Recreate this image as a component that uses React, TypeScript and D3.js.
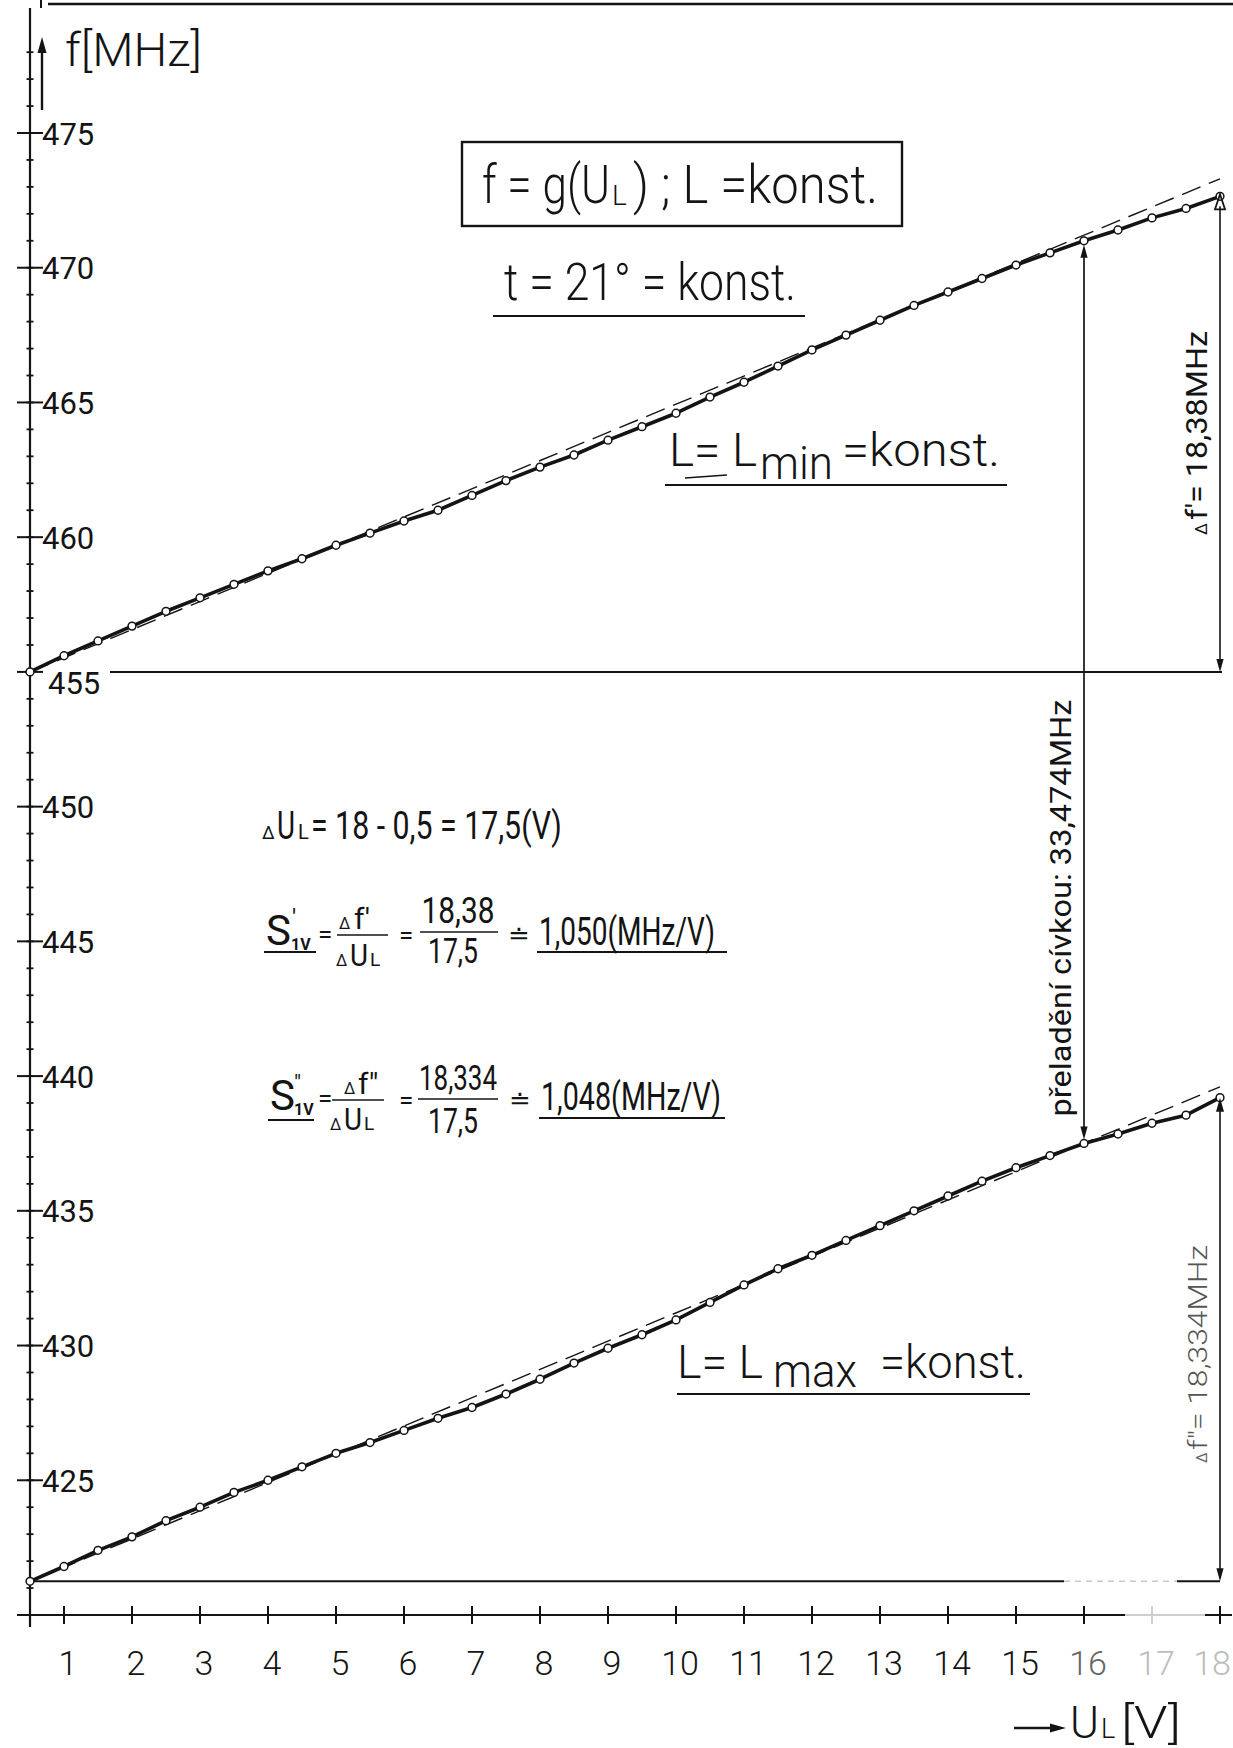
import React, { useLayoutEffect, useRef, useState } from 'react';
import * as d3 from 'd3';

// ---------- data ----------
const voltages = [0.5, 1, 1.5, 2, 2.5, 3, 3.5, 4, 4.5, 5, 5.5, 6, 6.5, 7, 7.5, 8, 8.5, 9, 9.5, 10, 10.5, 11, 11.5, 12, 12.5, 13, 13.5, 14, 14.5, 15, 15.5, 16, 16.5, 17, 17.5, 18];

// L = Lmin = konst.
const freqLmin = [455.0, 455.6, 456.15, 456.7, 457.25, 457.75, 458.25, 458.75, 459.2, 459.7, 460.15, 460.6, 461.0, 461.55, 462.1, 462.6, 463.05, 463.6, 464.1, 464.6, 465.2, 465.75, 466.35, 466.95, 467.5, 468.05, 468.6, 469.1, 469.6, 470.1, 470.55, 471.0, 471.4, 471.85, 472.2, 472.65];

// L = Lmax = konst.
const freqLmax = [421.25, 421.8, 422.4, 422.9, 423.5, 424.0, 424.55, 425.0, 425.5, 426.0, 426.4, 426.85, 427.3, 427.7, 428.2, 428.75, 429.35, 429.9, 430.4, 430.95, 431.6, 432.25, 432.85, 433.35, 433.9, 434.45, 435.0, 435.55, 436.1, 436.6, 437.05, 437.5, 437.85, 438.25, 438.55, 439.2];

// straight (dashed) reference lines: start and end frequency
const dashLmin = [455.0, 473.3];
const dashLmax = [421.25, 439.6];

const xTickValues = [1, 2, 3, 4, 5, 6, 7, 8, 9, 10, 11, 12, 13, 14, 15, 16, 17, 18];
const xTickLabels = ['1', '2', '3', '4', '5', '6', '7', '8', '9', '10', '11', '12', '13', '14', '15', '16', '17', '18'];
const yMajorTicks = [425, 430, 435, 440, 445, 450, 455, 460, 465, 470, 475];
const yMajorLabels = ['425', '430', '435', '440', '445', '450', '455', '460', '465', '470', '475'];
const retuneVoltage = 16;

const W = 1233;
const H = 1748;
const FONT = "Roboto, 'DejaVu Sans', 'Liberation Sans', sans-serif";
const INK = '#141414';

function arrowPath(tx: number, ty: number, dx: number, dy: number, len = 13, half = 3.6) {
  const bx = tx - dx * len;
  const by = ty - dy * len;
  const px = -dy;
  const py = dx;
  return `M${tx},${ty}L${bx + px * half},${by + py * half}L${bx - px * half},${by - py * half}Z`;
}

// text squeezed horizontally (via a transform) to a given width
function FitText(props: any) {
  const { x, y, width, rotate, anchor = 'start', children, ...rest } = props;
  const ref = useRef<SVGTextElement>(null);
  const [s, setS] = useState(1);
  useLayoutEffect(() => {
    if (ref.current) {
      const w = ref.current.getComputedTextLength();
      if (w > 0) setS(width / w);
    }
  }, [width, children]);
  const rot = rotate ? ` rotate(${rotate})` : '';
  return (
    <text ref={ref} transform={`translate(${x},${y})${rot} scale(${s},1)`} x={0} y={0} textAnchor={anchor} {...rest}>
      {children}
    </text>
  );
}

export default function App() {
  const x = d3.scaleLinear().domain([0.5, 18]).range([30, 1220]);
  const y = d3.scaleLinear().domain([420, 475]).range([1615, 133]);

  const line = d3
    .line<number>()
    .x((_, i) => x(voltages[i]))
    .y((d) => y(d));

  const x0 = x(voltages[0]);
  const xEnd = x(voltages[voltages.length - 1]);
  const minorTicks = d3.range(420, 479);

  const iRet = voltages.indexOf(retuneVoltage);
  const xRet = x(retuneVoltage);
  const yRetTop = y(freqLmin[iRet]);
  const yRetBot = y(freqLmax[iRet]);

  const yUpEnd = y(freqLmin[freqLmin.length - 1]);
  const yLoEnd = y(freqLmax[freqLmax.length - 1]);
  const yBase455 = y(freqLmin[0]);
  const yBaseLo = y(freqLmax[0]);
  const xAxisY = y(420);

  const big = { fontFamily: FONT, fill: INK, fontWeight: 300 } as const;
  const txt = { fontFamily: FONT, fill: INK, fontWeight: 400 } as const;

  return (
    <svg
      width={W}
      height={H}
      viewBox={`0 0 ${W} ${H}`}
      style={{ position: 'absolute', left: 0, top: 0, display: 'block', background: '#fff' }}
    >
      <rect x={0} y={0} width={W} height={H} fill="#fff" />

      {/* top frame line */}
      <line x1={48} y1={4} x2={W} y2={4} stroke={INK} strokeWidth={2.5} />
      <line x1={41} y1={0} x2={41} y2={8} stroke={INK} strokeWidth={2} />

      {/* y axis */}
      <line x1={x0} y1={8} x2={x0} y2={xAxisY + 12} stroke={INK} strokeWidth={2.2} />
      {minorTicks.map((v) => (
        <line key={'mt' + v} x1={x0 - 3.5} x2={x0 + 3.5} y1={y(v)} y2={y(v)} stroke={INK} strokeWidth={1.8} />
      ))}
      {yMajorTicks.map((v, i) => (
        <g key={'yt' + v}>
          <line x1={x0 - 13} x2={x0 + 13} y1={y(v)} y2={y(v)} stroke={INK} strokeWidth={2} />
          <text
            x={v === 455 ? x0 + 18 : x0 + 12}
            y={v === 455 ? y(v) + 22 : y(v) + 11.5}
            fontSize={31}
            {...txt}
          >
            {yMajorLabels[i]}
          </text>
        </g>
      ))}

      {/* y axis title */}
      <line x1={42} y1={110} x2={42} y2={50} stroke={INK} strokeWidth={2.4} />
      <path d={arrowPath(42, 37, 0, -1, 16, 4.5)} fill={INK} />
      <FitText x={65} y={66} width={137} fontSize={46} {...big}>
        f[MHz]
      </FitText>

      {/* x axis */}
      <line x1={17} y1={xAxisY} x2={1125} y2={xAxisY} stroke={INK} strokeWidth={2.2} />
      <line x1={1125} y1={xAxisY} x2={1205} y2={xAxisY} stroke="#cfcfcf" strokeWidth={2} />
      <line x1={1205} y1={xAxisY} x2={1232} y2={xAxisY} stroke={INK} strokeWidth={2} />
      {xTickValues.map((v, i) => (
        <g key={'xt' + v}>
          <line
            x1={x(v)}
            x2={x(v)}
            y1={xAxisY - 9}
            y2={xAxisY + 9}
            stroke={v === 17 ? '#cfcfcf' : INK}
            strokeWidth={2}
          />
          <text
            x={v === 18 ? x(v) - 8 : x(v) + 4}
            y={1675}
            fontSize={34}
            textAnchor="middle"
            {...txt}
            fontWeight={300}
            fill={v >= 17 ? '#bdbdbd' : v === 16 ? '#666' : INK}
          >
            {xTickLabels[i]}
          </text>
        </g>
      ))}

      {/* x axis title */}
      <line x1={1014} y1={1728} x2={1052} y2={1728} stroke={INK} strokeWidth={2.4} />
      <path d={arrowPath(1066, 1728, 1, 0, 16, 4.5)} fill={INK} />
      <text x={1070} y={1738} fontSize={44} {...big}>U</text>
      <text x={1101} y={1738} fontSize={27} {...big}>L</text>
      <FitText x={1121} y={1738} width={60} fontSize={44} {...big}>[V]</FitText>

      {/* horizontal reference lines */}
      <line x1={110} y1={yBase455} x2={xEnd + 2} y2={yBase455} stroke={INK} strokeWidth={2} />
      <line x1={x0} y1={yBaseLo} x2={1064} y2={yBaseLo} stroke={INK} strokeWidth={2} />
      <line x1={1064} y1={yBaseLo} x2={1177} y2={yBaseLo} stroke="#c8c8c8" strokeWidth={1.6} strokeDasharray="6 5" />
      <line x1={1177} y1={yBaseLo} x2={xEnd} y2={yBaseLo} stroke={INK} strokeWidth={2} />

      {/* dashed straight lines */}
      <line
        x1={x0}
        y1={y(dashLmin[0])}
        x2={xEnd}
        y2={y(dashLmin[1])}
        stroke={INK}
        strokeWidth={1.4}
        strokeDasharray="20 9"
      />
      <line
        x1={x0}
        y1={y(dashLmax[0])}
        x2={xEnd}
        y2={y(dashLmax[1])}
        stroke={INK}
        strokeWidth={1.4}
        strokeDasharray="20 9"
      />

      {/* measured curves */}
      <path d={line(freqLmin) || ''} fill="none" stroke={INK} strokeWidth={3.6} strokeLinejoin="round" />
      <path d={line(freqLmax) || ''} fill="none" stroke={INK} strokeWidth={3.6} strokeLinejoin="round" />
      {freqLmin.map((f, i) => (
        <circle key={'c1' + i} cx={x(voltages[i])} cy={y(f)} r={3.9} fill="#fff" stroke={INK} strokeWidth={1.5} />
      ))}
      {freqLmax.map((f, i) => (
        <circle key={'c2' + i} cx={x(voltages[i])} cy={y(f)} r={3.9} fill="#fff" stroke={INK} strokeWidth={1.5} />
      ))}

      {/* dimension arrow Δf' */}
      <line x1={xEnd} y1={yUpEnd + 10} x2={xEnd} y2={yBase455 - 10} stroke={INK} strokeWidth={1.6} />
      <path d={arrowPath(xEnd, yUpEnd - 2, 0, -1, 15, 5)} fill="none" stroke={INK} strokeWidth={1.8} />
      <path d={arrowPath(xEnd, yBase455, 0, 1)} fill={INK} />
      <g transform="translate(1207,535) rotate(-90)">
        <text x={0} y={0} fontSize={17} {...txt}>Δ</text>
      </g>
      <FitText x={1207} y={520} rotate={-90} width={189} fontSize={29} {...txt}>
        f′= 18,38MHz
      </FitText>

      {/* dimension arrow Δf'' */}
      <line x1={xEnd} y1={yLoEnd + 10} x2={xEnd} y2={yBaseLo - 10} stroke={INK} strokeWidth={1.6} />
      <path d={arrowPath(xEnd, yLoEnd, 0, -1, 14, 4)} fill={INK} />
      <path d={arrowPath(xEnd, yBaseLo, 0, 1)} fill={INK} />
      <g transform="translate(1207,1463) rotate(-90)">
        <text x={0} y={0} fontSize={15} {...txt} fill="#666">Δ</text>
      </g>
      <FitText x={1207} y={1450} rotate={-90} width={205} fontSize={25} {...txt} fontWeight={300} fill="#555">
        f″= 18,334MHz
      </FitText>

      {/* retuning arrow */}
      <line x1={xRet} y1={yRetTop + 8} x2={xRet} y2={yRetBot - 8} stroke={INK} strokeWidth={1.7} />
      <path d={arrowPath(xRet, yRetTop + 4, 0, -1)} fill={INK} />
      <path d={arrowPath(xRet, yRetBot - 4, 0, 1)} fill={INK} />
      <FitText x={1071} y={908} rotate={-90} anchor="middle" width={417} fontSize={30} {...txt}>
        přeladění cívkou: 33,474MHz
      </FitText>

      {/* title box */}
      <rect x={462} y={142} width={440} height={84} fill="none" stroke={INK} strokeWidth={2.4} />
      <FitText x={482} y={203} width={128} fontSize={54} {...big}>
        f = g(U
      </FitText>
      <text x={612} y={205} fontSize={28} {...big}>L</text>
      <FitText x={633} y={203} width={245} fontSize={54} {...big}>
        ) ; L =konst.
      </FitText>

      {/* t = 21° */}
      <FitText x={504} y={300} width={292} fontSize={52} {...big}>
        t = 21° = konst.
      </FitText>
      <line x1={493} y1={316} x2={805} y2={316} stroke={INK} strokeWidth={2.2} />

      {/* L = Lmin */}
      <FitText x={669} y={466} width={88} fontSize={46} {...big}>L= L</FitText>
      <FitText x={760} y={479} width={73} fontSize={46} {...big}>min</FitText>
      <FitText x={842} y={466} width={158} fontSize={46} {...big}>=konst.</FitText>
      <line x1={685} y1={478} x2={727} y2={475} stroke={INK} strokeWidth={1.3} />
      <line x1={665} y1={485} x2={1007} y2={485} stroke={INK} strokeWidth={2.2} />

      {/* L = Lmax */}
      <FitText x={677} y={1378} width={86} fontSize={46} {...big}>L= L</FitText>
      <FitText x={773} y={1387} width={84} fontSize={46} {...big}>max</FitText>
      <FitText x={880} y={1378} width={146} fontSize={46} {...big}>=konst.</FitText>
      <line x1={677} y1={1394} x2={1030} y2={1394} stroke={INK} strokeWidth={2.2} />

      {/* ΔU_L */}
      <text x={262} y={839} fontSize={18} {...txt}>Δ</text>
      <FitText x={277} y={839} width={18} fontSize={38} {...txt}>U</FitText>
      <text x={298} y={839} fontSize={20} {...txt}>L</text>
      <FitText x={311} y={839} width={251} fontSize={38} {...txt}>
        = 18 - 0,5 = 17,5(V)
      </FitText>

      {/* S'1V formula */}
      <g>
        <text x={266} y={945} fontSize={42} {...txt}>S</text>
        <text x={292} y={926} fontSize={24} {...txt}>′</text>
        <text x={291} y={950} fontSize={16} {...txt} fontWeight={700}>1V</text>
        <line x1={264} y1={952} x2={316} y2={952} stroke={INK} strokeWidth={2} />
        <text x={318} y={943} fontSize={26} {...txt}>=</text>
        <text x={339} y={929} fontSize={16} {...txt}>Δ</text>
        <text x={354} y={929} fontSize={30} {...txt}>f′</text>
        <line x1={337} y1={935} x2={388} y2={935} stroke={INK} strokeWidth={1.6} />
        <text x={336} y={966} fontSize={16} {...txt}>Δ</text>
        <FitText x={350} y={966} width={18} fontSize={32} {...txt}>U</FitText>
        <text x={370} y={966} fontSize={19} {...txt}>L</text>
        <text x={399} y={944} fontSize={26} {...txt}>=</text>
        <FitText x={458} y={923} anchor="middle" width={73} fontSize={36} {...txt}>
          18,38
        </FitText>
        <line x1={420} y1={932} x2={498} y2={932} stroke={INK} strokeWidth={1.6} />
        <FitText x={453} y={963} anchor="middle" width={50} fontSize={36} {...txt}>
          17,5
        </FitText>
        <text x={508} y={944} fontSize={26} {...txt}>≐</text>
        <FitText x={539} y={945} width={176} fontSize={38} {...txt}>
          1,050(MHz/V)
        </FitText>
        <line x1={537} y1={952} x2={727} y2={952} stroke={INK} strokeWidth={2} />
      </g>

      {/* S''1V formula */}
      <g>
        <text x={270} y={1110} fontSize={42} {...txt}>S</text>
        <text x={294} y={1090} fontSize={22} {...txt}>″</text>
        <text x={294} y={1115} fontSize={16} {...txt} fontWeight={700}>1V</text>
        <line x1={268} y1={1120} x2={314} y2={1120} stroke={INK} strokeWidth={2} />
        <text x={318} y={1107} fontSize={26} {...txt}>=</text>
        <text x={344} y={1094} fontSize={16} {...txt}>Δ</text>
        <text x={358} y={1094} fontSize={30} {...txt}>f″</text>
        <line x1={332} y1={1100} x2={384} y2={1100} stroke={INK} strokeWidth={1.6} />
        <text x={330} y={1130} fontSize={16} {...txt}>Δ</text>
        <FitText x={344} y={1130} width={18} fontSize={32} {...txt}>U</FitText>
        <text x={364} y={1130} fontSize={19} {...txt}>L</text>
        <text x={399} y={1109} fontSize={26} {...txt}>=</text>
        <FitText x={458} y={1090} anchor="middle" width={78} fontSize={36} {...txt}>
          18,334
        </FitText>
        <line x1={418} y1={1099} x2={498} y2={1099} stroke={INK} strokeWidth={1.6} />
        <FitText x={453} y={1133} anchor="middle" width={50} fontSize={36} {...txt}>
          17,5
        </FitText>
        <text x={509} y={1109} fontSize={26} {...txt}>≐</text>
        <FitText x={541} y={1110} width={180} fontSize={38} {...txt}>
          1,048(MHz/V)
        </FitText>
        <line x1={539} y1={1118} x2={725} y2={1118} stroke={INK} strokeWidth={2} />
      </g>
    </svg>
  );
}
